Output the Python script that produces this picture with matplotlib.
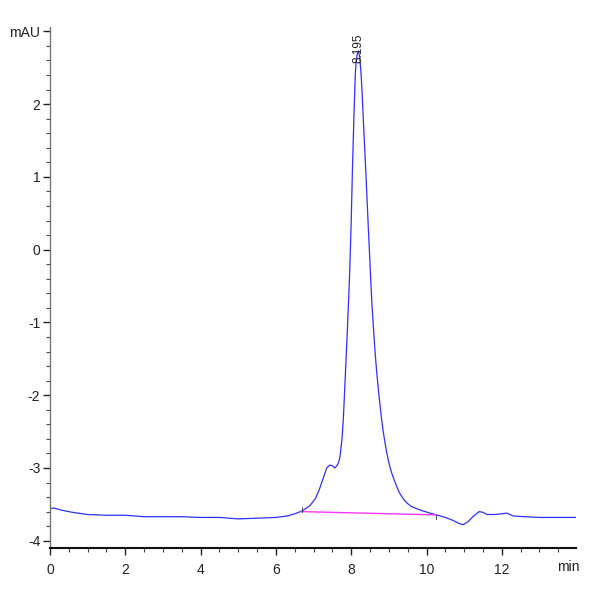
import matplotlib
matplotlib.use("Agg")
import matplotlib.pyplot as plt
from matplotlib.ticker import MultipleLocator, FixedLocator

plt.rcParams['axes.unicode_minus'] = False
plt.rcParams['font.family'] = ['Liberation Sans Narrow', 'Liberation Sans', 'DejaVu Sans']

# Chromatogram trace (time in min, signal in mAU)
time_min = [0.0, 0.1, 0.3, 0.6, 1.0, 1.5, 2.0, 2.5, 3.0, 3.5, 4.0, 4.5, 5.0, 5.5,
            6.0, 6.3, 6.5, 6.7, 6.9, 7.05, 7.15, 7.25, 7.35, 7.43, 7.5, 7.57,
            7.63, 7.66, 7.70, 7.73, 7.76, 7.79, 7.81, 7.85, 7.89, 7.93, 7.96,
            8.0, 8.03, 8.07, 8.11, 8.13, 8.15, 8.17, 8.19, 8.21, 8.23, 8.26,
            8.29, 8.32, 8.39, 8.45, 8.51, 8.55, 8.60, 8.64, 8.68, 8.72, 8.76,
            8.80, 8.85, 8.90, 8.94, 8.98, 9.02, 9.07, 9.11, 9.16, 9.22, 9.28,
            9.34, 9.42, 9.5, 9.6, 9.69, 9.9, 10.09, 10.3, 10.5, 10.7, 10.85,
            10.97, 11.1, 11.25, 11.4, 11.5, 11.6, 11.8, 12.0, 12.13, 12.3,
            12.6, 13.0, 13.5, 13.97]
signal_mau = [-3.56, -3.55, -3.58, -3.61, -3.64, -3.65, -3.65, -3.67, -3.67, -3.67,
              -3.68, -3.68, -3.70, -3.69, -3.68, -3.66, -3.63, -3.59, -3.52, -3.42,
              -3.30, -3.15, -3.00, -2.96, -2.97, -3.00, -2.96, -2.93, -2.85, -2.72,
              -2.57, -2.33, -2.11, -1.65, -1.20, -0.70, -0.30,
              0.40, 1.05, 1.80, 2.43, 2.57, 2.66, 2.71, 2.73, 2.69, 2.62, 2.43,
              2.15, 1.80, 1.05, 0.35, -0.32, -0.75, -1.15, -1.45, -1.70, -1.92, -2.11,
              -2.30, -2.50, -2.66, -2.78, -2.88, -2.97, -3.06, -3.12, -3.19, -3.27, -3.34,
              -3.39, -3.45, -3.49, -3.53, -3.55, -3.59, -3.62, -3.65, -3.68, -3.72, -3.76,
              -3.78, -3.74, -3.66, -3.60, -3.61, -3.64, -3.64, -3.63, -3.62, -3.66,
              -3.67, -3.68, -3.68, -3.68]

# Integration baseline
baseline_t = [6.68, 10.25]
baseline_v = [-3.60, -3.645]

# Peak annotation
peak_rt = 8.195
peak_label = "8.195"
peak_label_y = 2.57

x_ticks = [0, 2, 4, 6, 8, 10, 12]
x_tick_labels = ["0", "2", "4", "6", "8", "10", "12"]
y_ticks = [-4, -3, -2, -1, 0, 1, 2, 3]
y_tick_labels = ["-4", "-3", "-2", "-1", "0", "1", "2", "mAU"]

fig = plt.figure(figsize=(6, 6), dpi=100)
ax = fig.add_axes([50/600, 52/600, 526/600, 521/600])

ax.plot(time_min, signal_mau, color='#3030ff', lw=0.9, solid_joinstyle='round')
ax.plot(baseline_t, baseline_v, color='#ff33ff', lw=1.0)
ax.plot([baseline_t[0], baseline_t[0]], [baseline_v[0], baseline_v[0] + 0.06], color='#333333', lw=0.6)
ax.plot([baseline_t[1], baseline_t[1]], [baseline_v[1], baseline_v[1] - 0.06], color='#333333', lw=0.6)

ax.text(peak_rt, peak_label_y, peak_label, rotation=90, ha='center', va='bottom',
        fontsize=8.5, color='#222222', clip_on=False)

ax.set_xlim(0, 13.97)
ax.set_ylim(-4.1, 3.06)

ax.xaxis.set_major_locator(FixedLocator(x_ticks))
ax.set_xticklabels(x_tick_labels)
ax.xaxis.set_minor_locator(MultipleLocator(0.5))
ax.yaxis.set_major_locator(FixedLocator(y_ticks))
ax.set_yticklabels(y_tick_labels)
ax.yaxis.set_minor_locator(MultipleLocator(0.2))

for s in ['top', 'right']:
    ax.spines[s].set_visible(False)
ax.spines['left'].set_color('#777777')
ax.spines['left'].set_linewidth(1.0)
ax.spines['bottom'].set_color('#111111')
ax.spines['bottom'].set_linewidth(1.5)

ax.tick_params(axis='both', which='major', direction='out', length=5, width=1,
               labelsize=10, colors='#222222', pad=2)
ax.tick_params(axis='both', which='minor', direction='out', length=3, width=0.8,
               colors='#444444')
ax.tick_params(axis='x', which='major', pad=6)

fig.text(568/600, 1 - 567/600, "min", ha='center', va='center', fontsize=10, color='#222222')

fig.savefig("out.png", dpi=100, facecolor='white')
